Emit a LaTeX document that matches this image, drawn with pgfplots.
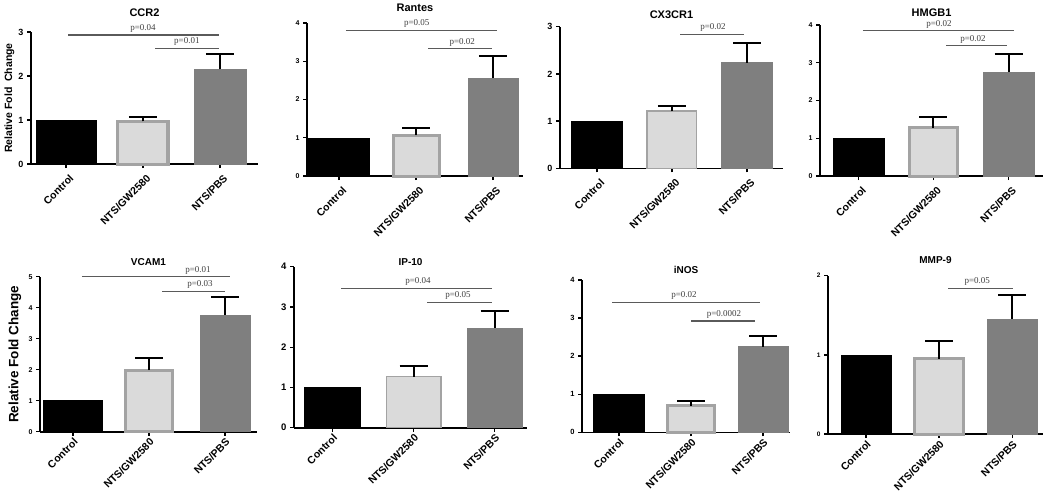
\documentclass[border=0pt]{standalone}
\usepackage{pgfplots}
\pgfplotsset{compat=1.18}
\usepackage{fontspec}
\setmainfont{Liberation Sans}
\newfontfamily\pser{Liberation Serif}
\definecolor{gwfill}{HTML}{DADADA}
\definecolor{gwdraw}{HTML}{A3A3A3}
\definecolor{pbs}{HTML}{7F7F7F}
\definecolor{pl}{HTML}{5A5A5A}
\definecolor{ptc}{HTML}{404040}
\pgfplotsset{
  panel/.style={
    scale only axis, anchor=south west, ybar, bar shift=0pt, ymin=0,
    axis x line*=bottom, axis y line*=left,
    axis line style={line width=1.6pt, -, black},
    xtick={0,1,2}, xticklabels={Control,NTS/GW2580,NTS/PBS},
    x tick label style={rotate=45, anchor=north east, font=\bfseries\fontsize{10.5}{10.5}\selectfont, inner sep=1pt},
    tick align=outside, major tick length=4pt,
    tick style={line width=1.4pt, black},
    ytick distance=1,
    /pgf/number format/assume math mode=true,
    y tick label style={font=\bfseries\fontsize{8}{8}\selectfont},
    title style={font=\bfseries\fontsize{11}{12}\selectfont, at={(0.5,1)}, anchor=center},
    clip=false,
    enlarge x limits=false,
    error bars/error bar style={line width=2pt, black},
    error bars/error mark options={rotate=90, mark size=14pt, line width=2pt, black},
  },
  toprow/.style={x tick label style={yshift=-5pt, xshift=-1pt}},
  ctrl/.style={fill=black, draw=black, line width=0.5pt},
  gw/.style={fill=gwfill, draw=gwdraw, line width=3pt, error bars/y dir=plus, error bars/y explicit},
  pb/.style={fill=pbs, draw=pbs, line width=0.5pt, error bars/y dir=plus, error bars/y explicit},
  pline/.style={sharp plot, no markers, draw=pl, line width=1.3pt, forget plot},
}
\newcommand{\ptext}[3]{\node[font=\pser\fontsize{9}{9}\selectfont, text=ptc, anchor=south, inner sep=0pt, yshift=2.5pt] at (axis cs:#1,#2) {#3};}
\begin{document}
\begin{tikzpicture}
\useasboundingbox (0,0) rectangle (1050pt,-491pt);
% CCR2
\begin{axis}[panel, toprow, at={(31pt,-164pt)}, width=227pt, height=132pt, xmin=-0.455, xmax=2.494, ymax=3,
  title={CCR2}, title style={yshift=13pt}, y tick label style={font=\bfseries\fontsize{9}{9}\selectfont}]
\addplot[ctrl, bar width=60pt] coordinates {(0,1)};
\addplot[gw, bar width=50pt] coordinates {(1,0.97) +- (0,0.10)};
\addplot[pb, bar width=52pt] coordinates {(2,2.15) +- (0,0.35)};
\addplot[pline] coordinates {(0.026,2.93) (1.987,2.93)};
\addplot[pline] coordinates {(1.156,2.63) (1.987,2.63)};
\ptext{1.0}{2.93}{p=0.04}
\ptext{1.57}{2.63}{p=0.01}
\node[rotate=90, font=\bfseries\fontsize{10.5}{11}\selectfont] at ([xshift=-21.5pt]rel axis cs:0,0.5) {Relative Fold~~Change};
\end{axis}
% Rantes
\begin{axis}[panel, toprow, at={(307pt,-176pt)}, width=216pt, height=153pt, xmin=-0.416, xmax=2.39, ymax=4,
  title={Rantes}, title style={yshift=9pt}, y tick label style={font=\bfseries\fontsize{7}{7}\selectfont}]
\addplot[ctrl, bar width=61pt] coordinates {(0,1)};
\addplot[gw, bar width=46pt] coordinates {(1,1.06) +- (0,0.20)};
\addplot[pb, bar width=50pt] coordinates {(2,2.56) +- (0,0.59)};
\addplot[pline] coordinates {(0.09,3.81) (2.05,3.81)};
\addplot[pline] coordinates {(1.156,3.33) (1.987,3.33)};
\ptext{1.01}{3.81}{p=0.05}
\ptext{1.60}{3.33}{p=0.02}
\end{axis}
% CX3CR1
\begin{axis}[panel, toprow, at={(560pt,-168.3pt)}, width=223pt, height=141.6pt, xmin=-0.493, xmax=2.48, ymax=3,
  title={CX3CR1}, title style={yshift=6pt}, y tick label style={font=\bfseries\fontsize{9}{9}\selectfont}]
\addplot[ctrl, bar width=51pt] coordinates {(0,1)};
\addplot[gw, line width=1.5pt, bar width=49.5pt] coordinates {(1,1.21) +- (0,0.11)};
\addplot[pb, bar width=51pt] coordinates {(2,2.24) +- (0,0.41)};
\addplot[pline] coordinates {(1.107,2.84) (1.96,2.84)};
\ptext{1.547}{2.84}{p=0.02}
\end{axis}
% HMGB1
\begin{axis}[panel, toprow, at={(820pt,-176pt)}, width=223pt, height=151pt, xmin=-0.513, xmax=2.46, ymax=4,
  title={HMGB1}, title style={yshift=6pt}, y tick label style={font=\bfseries\fontsize{7}{7}\selectfont}]
\addplot[ctrl, bar width=51pt] coordinates {(0,1)};
\addplot[gw, bar width=48pt] coordinates {(1,1.28) +- (0,0.27)};
\addplot[pb, bar width=51pt] coordinates {(2,2.75) +- (0,0.47)};
\addplot[pline] coordinates {(0.06,3.85) (2.07,3.85)};
\addplot[pline] coordinates {(1.167,3.45) (1.98,3.45)};
\ptext{1.073}{3.85}{p=0.02}
\ptext{1.527}{3.45}{p=0.02}
\end{axis}
% VCAM1
\begin{axis}[panel, at={(40pt,-431.7pt)}, width=217pt, height=155pt, xmin=-0.434, xmax=2.42, ymax=5,
  title={VCAM1}, title style={yshift=9pt, font=\bfseries\fontsize{10}{11}\selectfont}, y tick label style={font=\bfseries\fontsize{7}{7}\selectfont}]
\addplot[ctrl, bar width=59pt] coordinates {(0,1)};
\addplot[gw, bar width=47pt] coordinates {(1,1.99) +- (0,0.38)};
\addplot[pb, bar width=50pt] coordinates {(2,3.76) +- (0,0.59)};
\addplot[pline] coordinates {(0.118,5.0) (2.066,5.0)};
\addplot[pline] coordinates {(1.171,4.52) (2.0,4.52)};
\ptext{1.645}{5.0}{p=0.01}
\ptext{1.67}{4.52}{p=0.03}
\node[rotate=90, font=\bfseries\fontsize{13.5}{14}\selectfont] at ([xshift=-25pt]rel axis cs:0,0.5) {Relative Fold Change};
\end{axis}
% IP-10
\begin{axis}[panel, at={(294pt,-427.7pt)}, width=233pt, height=161pt, xmin=-0.475, xmax=2.40, ymax=4,
  title={IP-10}, title style={yshift=-1pt, font=\bfseries\fontsize{10}{11}\selectfont}, y tick label style={font=\bfseries\fontsize{9.5}{9.5}\selectfont}]
\addplot[ctrl, bar width=56pt] coordinates {(0,1)};
\addplot[gw, line width=1.5pt, bar width=54.5pt] coordinates {(1,1.27) +- (0,0.26)};
\addplot[pb, bar width=55pt] coordinates {(2,2.48) +- (0,0.43)};
\addplot[pline] coordinates {(0.105,3.46) (1.969,3.46)};
\addplot[pline] coordinates {(1.167,3.11) (1.969,3.11)};
\ptext{1.056}{3.46}{p=0.04}
\ptext{1.549}{3.11}{p=0.05}
\end{axis}
% iNOS
\begin{axis}[panel, at={(582pt,-432.3pt)}, width=208pt, height=152.3pt, xmin=-0.514, xmax=2.375, ymax=4,
  title={iNOS}, title style={yshift=4pt, font=\bfseries\fontsize{10}{11}\selectfont}, y tick label style={font=\bfseries\fontsize{7.5}{7.5}\selectfont}]
\addplot[ctrl, bar width=51pt] coordinates {(0,1)};
\addplot[gw, bar width=47pt] coordinates {(1,0.70) +- (0,0.13)};
\addplot[pb, bar width=50pt] coordinates {(2,2.25) +- (0,0.29)};
\addplot[pline] coordinates {(-0.097,3.41) (1.958,3.41)};
\addplot[pline] coordinates {(1.0,2.92) (1.889,2.92)};
\ptext{0.903}{3.41}{p=0.02}
\ptext{1.458}{2.92}{p=0.0002}
\end{axis}
% MMP-9
\begin{axis}[panel, at={(828pt,-434pt)}, width=215pt, height=158.3pt, xmin=-0.52, xmax=2.42, ymax=2,
  title={MMP-9}, title style={yshift=10pt, font=\bfseries\fontsize{10}{11}\selectfont}, y tick label style={font=\bfseries\fontsize{6.5}{6.5}\selectfont}]
\addplot[ctrl, bar width=50pt] coordinates {(0,1)};
\addplot[gw, bar width=49pt] coordinates {(1,0.95) +- (0,0.23)};
\addplot[pb, bar width=50pt] coordinates {(2,1.45) +- (0,0.30)};
\addplot[pline] coordinates {(1.123,1.84) (2.014,1.84)};
\ptext{1.52}{1.84}{p=0.05}
\end{axis}
\end{tikzpicture}
\end{document}
